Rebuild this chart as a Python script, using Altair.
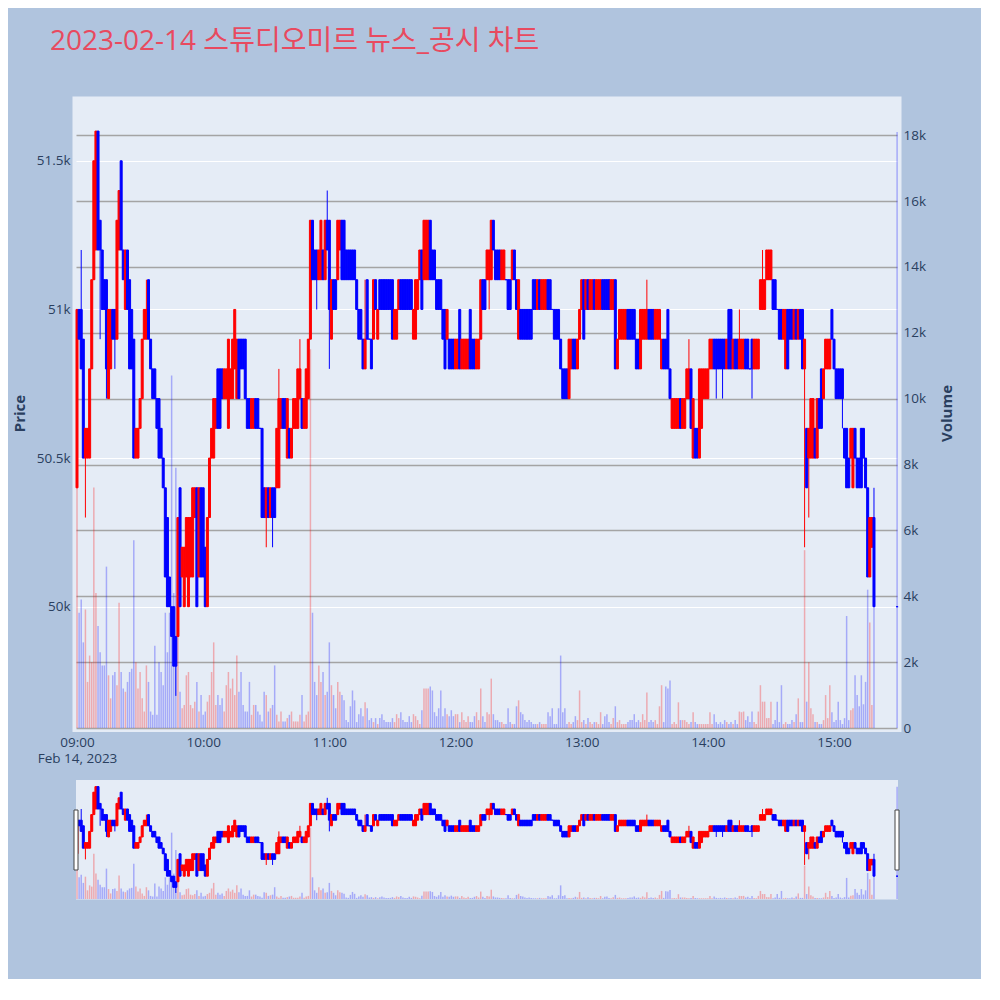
import altair as alt
import pandas as pd

title_text = "2023-02-14 스튜디오미르 뉴스_공시 차트"
date_label = "Feb 14, 2023"

# minute offsets from 09:00 (continuous session 09:00-15:19, closing auction 15:30)
minutes = list(range(380)) + [390]

opens = [
    50400, 51000, 51000, 50900, 50500, 50500, 50500, 50800, 51100, 51200,
    51600, 51300, 51200, 51100, 51100, 50700, 50800, 51000, 51000, 50900,
    51200, 51500, 51200, 51000, 51200, 51100, 51000, 50900, 50500, 50500,
    50600, 50700, 50900, 50900, 51100, 50900, 50800, 50800, 50700, 50700,
    50600, 50500, 50400, 50300, 50100, 50000, 50000, 49900, 49900, 50400,
    50100, 50000, 50100, 50000, 50100, 50100, 50300, 50400, 50100, 50400,
    50400, 50200, 50000, 50300, 50500, 50500, 50600, 50800, 50800, 50800,
    50700, 50700, 50600, 50700, 50700, 50800, 50700, 50900, 50900, 50900,
    50900, 50700, 50700, 50600, 50600, 50700, 50700, 50600, 50600, 50400,
    50300, 50400, 50300, 50400, 50400, 50400, 50400, 50600, 50700, 50700,
    50500, 50600, 50500, 50600, 50600, 50600, 50700, 50700, 50600, 50600,
    50700, 50900, 51300, 51200, 51200, 51100, 51100, 51200, 51100, 51300,
    51300, 50900, 51100, 51100, 51100, 51200, 51300, 51300, 51200, 51200,
    51200, 51200, 51200, 51100, 51000, 51000, 50900, 50800, 51100, 50900,
    50900, 50900, 51100, 50900, 51100, 51100, 51100, 51100, 51100, 51100,
    51100, 50900, 50900, 51000, 51100, 51100, 51100, 51100, 51100, 51100,
    50900, 50900, 51000, 51100, 51200, 51100, 51100, 51100, 51300, 51200,
    51200, 51100, 51100, 51100, 51000, 51000, 50900, 50900, 50900, 50900,
    50800, 50800, 51000, 50800, 50800, 50800, 50800, 51000, 50900, 50900,
    50800, 50800, 50900, 51100, 51100, 51100, 51100, 51100, 51300, 51200,
    51200, 51200, 51100, 51100, 51100, 51100, 51100, 51100, 51200, 51100,
    50900, 51000, 51000, 51000, 51000, 51000, 51000, 51100, 51100, 51000,
    51100, 51000, 51000, 51000, 51100, 51100, 51000, 51000, 51000, 51000,
    50900, 50800, 50800, 50800, 50700, 50800, 50900, 50900, 50800, 50900,
    51000, 51100, 51000, 51100, 51000, 51000, 51100, 51000, 51000, 51000,
    51100, 51100, 51100, 51100, 51000, 51000, 51100, 50800, 50900, 50900,
    50900, 50900, 51000, 51000, 51000, 51000, 50900, 50900, 50800, 50900,
    50900, 50900, 51000, 51000, 51000, 50900, 50900, 50900, 50800, 50900,
    50900, 51000, 50800, 50600, 50600, 50600, 50600, 50700, 50600, 50600,
    50700, 50700, 50800, 50500, 50600, 50600, 50500, 50600, 50700, 50700,
    50700, 50800, 50800, 50900, 50900, 50900, 50900, 50900, 50900, 50800,
    51000, 51000, 50800, 50900, 50900, 50800, 50800, 50800, 50900, 50900,
    50800, 50900, 50800, 50800, 50800, 51000, 51000, 51000, 51100, 51100,
    51100, 51100, 51100, 51000, 51000, 51000, 50900, 50800, 51000, 51000,
    51000, 50900, 51000, 50900, 51000, 51000, 50800, 50600, 50500, 50500,
    50500, 50600, 50500, 50700, 50800, 50700, 50800, 50800, 50800, 51000,
    50900, 50800, 50800, 50800, 50800, 50600, 50600, 50500, 50500, 50400,
    50600, 50500, 50500, 50600, 50600, 50500, 50400, 50100, 50200, 50300,
    50000,
]

closes = [
    51000, 50900, 50800, 50500, 50600, 50600, 50800, 51100, 51500, 51600,
    51200, 51200, 51000, 51000, 50800, 51000, 51000, 50900, 50900, 51300,
    51400, 51200, 51100, 51200, 51000, 50800, 50800, 50500, 50600, 50600,
    50700, 50900, 51000, 51000, 50900, 50800, 50700, 50700, 50600, 50500,
    50500, 50400, 50100, 50000, 50000, 49900, 49800, 49800, 50300, 50000,
    50200, 50200, 50300, 50300, 50300, 50400, 50400, 50000, 50400, 50100,
    50100, 50000, 50300, 50500, 50600, 50700, 50700, 50600, 50600, 50700,
    50800, 50800, 50900, 50800, 50900, 51000, 50900, 50700, 50800, 50800,
    50700, 50600, 50600, 50700, 50700, 50600, 50600, 50600, 50300, 50300,
    50400, 50300, 50400, 50300, 50300, 50600, 50700, 50700, 50600, 50600,
    50700, 50500, 50600, 50700, 50700, 50800, 50800, 50600, 50700, 50800,
    50900, 51300, 51100, 51100, 51100, 51200, 51300, 51100, 51300, 51200,
    51000, 51100, 51000, 51000, 51300, 51300, 51100, 51100, 51100, 51100,
    51100, 51100, 51100, 51000, 50900, 50900, 50800, 50900, 50900, 50900,
    50800, 51100, 51000, 51000, 51000, 51000, 51000, 51000, 51000, 51000,
    50900, 51000, 51000, 51100, 51000, 51000, 51000, 51000, 51000, 51000,
    51000, 51100, 51100, 51200, 51000, 51300, 51300, 51300, 51100, 51100,
    51100, 51000, 51000, 51000, 50900, 50800, 51000, 50800, 50800, 50800,
    50900, 50900, 50800, 50900, 50900, 50900, 50900, 50800, 50800, 50800,
    50900, 50900, 51100, 51000, 51000, 51200, 51200, 51300, 51200, 51100,
    51100, 51100, 51200, 51200, 51100, 51000, 51000, 51200, 51100, 51000,
    51100, 50900, 50900, 50900, 50900, 50900, 50900, 51000, 51000, 51100,
    51000, 51100, 51100, 51100, 51000, 51000, 51000, 50900, 50900, 50900,
    50800, 50700, 50700, 50700, 50900, 50900, 50800, 50800, 50900, 51000,
    51100, 50900, 51100, 51000, 51100, 51100, 51000, 51100, 51100, 51100,
    51000, 51000, 51000, 51000, 51100, 51100, 50800, 50900, 51000, 51000,
    51000, 51000, 50900, 50900, 50900, 50900, 50800, 50800, 51000, 51000,
    51000, 51000, 50900, 50900, 50900, 51000, 51000, 51000, 50900, 50800,
    50800, 50800, 50700, 50700, 50700, 50700, 50700, 50600, 50700, 50700,
    50800, 50800, 50600, 50700, 50500, 50500, 50800, 50800, 50800, 50800,
    50800, 50900, 50900, 50800, 50800, 50800, 50800, 50800, 50800, 50900,
    50800, 50800, 50900, 50800, 50800, 50900, 50900, 50900, 50800, 50800,
    50800, 50800, 50900, 50900, 50900, 51100, 51100, 51100, 51200, 51200,
    51200, 51000, 51000, 51000, 50900, 50900, 51000, 51000, 50800, 50900,
    50900, 51000, 50900, 51000, 50900, 50800, 50900, 50400, 50600, 50700,
    50700, 50500, 50700, 50600, 50600, 50800, 50900, 50900, 50900, 50900,
    50800, 50700, 50700, 50700, 50700, 50500, 50400, 50400, 50600, 50600,
    50500, 50400, 50400, 50400, 50500, 50400, 50100, 50300, 50300, 50000,
    50000,
]

# wick extremes that reach beyond the candle body (keyed by minute offset)
high_wicks = {2: 51200, 33: 51100, 96: 50800, 106: 50900, 119: 51400, 137: 51100,
              271: 51100, 291: 50900, 315: 51000, 326: 51200, 379: 50400}
low_wicks = {4: 50300, 11: 50900, 14: 50700, 18: 50800, 47: 49700, 90: 50200,
             93: 50200, 114: 51000, 120: 50800, 196: 51000, 304: 50700, 307: 50700,
             321: 50700, 346: 50200, 348: 50300, 364: 50600}

volumes = [
    7300, 3500, 3900, 2600, 3600, 1400, 2200, 2000, 7300, 4100,
    3100, 2300, 1900, 1900, 4900, 1600, 900, 1600, 1700, 1300,
    3800, 1700, 1200, 1100, 1400, 1700, 1800, 5700, 2000, 1200,
    1700, 900, 500, 1900, 1400, 500, 400, 2500, 400, 2000,
    1700, 1300, 3500, 2300, 3500, 10700, 4100, 7900, 3200, 1100,
    600, 700, 1600, 1700, 700, 600, 800, 1400, 500, 1000,
    400, 500, 800, 1000, 1700, 2600, 700, 1000, 700, 900,
    500, 1300, 1700, 1200, 1500, 1000, 2200, 1100, 1700, 700,
    500, 500, 1400, 400, 700, 700, 500, 400, 200, 1100,
    1000, 500, 600, 700, 1900, 400, 200, 500, 200, 200,
    300, 400, 500, 200, 200, 200, 400, 1000, 200, 400,
    500, 11500, 3500, 1400, 1000, 1900, 1400, 1700, 1000, 1100,
    2600, 1300, 1000, 600, 1400, 1100, 1000, 840, 240, 180,
    660, 1140, 840, 180, 420, 600, 360, 780, 600, 240,
    300, 180, 300, 120, 300, 420, 240, 180, 180, 180,
    300, 180, 420, 300, 480, 240, 180, 180, 360, 180,
    420, 360, 240, 120, 540, 1200, 1200, 1200, 1260, 1140,
    480, 360, 600, 1140, 360, 600, 420, 360, 540, 360,
    420, 420, 180, 480, 240, 180, 360, 180, 180, 360,
    480, 240, 1200, 360, 180, 480, 420, 1500, 420, 240,
    240, 180, 180, 120, 120, 600, 180, 120, 120, 660,
    840, 480, 420, 240, 180, 240, 180, 120, 120, 120,
    180, 120, 120, 120, 480, 360, 600, 120, 120, 600,
    2200, 480, 600, 120, 180, 120, 180, 360, 240, 1140,
    180, 240, 120, 300, 180, 120, 180, 180, 120, 480,
    120, 360, 420, 180, 120, 300, 660, 180, 240, 120,
    120, 120, 180, 240, 240, 420, 180, 240, 180, 420,
    240, 1080, 180, 240, 180, 240, 120, 660, 1300, 180,
    1260, 1200, 1440, 120, 180, 120, 780, 240, 240, 240,
    180, 120, 180, 480, 180, 120, 120, 120, 120, 120,
    120, 480, 120, 420, 180, 120, 180, 120, 240, 180,
    120, 180, 120, 240, 120, 500, 480, 500, 240, 360,
    180, 500, 180, 120, 500, 1300, 800, 800, 300, 300,
    800, 120, 240, 800, 180, 1300, 120, 180, 120, 120,
    240, 180, 420, 900, 180, 180, 5400, 800, 2000, 600,
    420, 180, 180, 120, 120, 240, 1000, 300, 1300, 480,
    180, 240, 800, 240, 120, 300, 3400, 240, 540, 600,
    1600, 1000, 660, 1600, 720, 1400, 4200, 3200, 700, 3700,
    18100,
]

# range slider covers the whole session
slider_range = [-0.48, 389.95]

rows = []
for i, m in enumerate(minutes):
    o, c = opens[i], closes[i]
    rows.append({
        "m": m,
        "open": o,
        "close": c,
        "high": max(o, c, high_wicks.get(m, o)),
        "low": min(o, c, low_wicks.get(m, o)),
        "volume": volumes[i],
        "dir": "up" if c > o else "down",
    })
df = pd.DataFrame(rows)
handles_df = pd.DataFrame({"pos": slider_range})
one_df = pd.DataFrame({"k": [0]})

FONT = "Open Sans"
TXT = "#2a3f5f"
LBL = 13.5

x_scale = alt.Scale(domain=[-0.48, 389.95], range=[4, 825], nice=False, zero=False, padding=0)
x_axis = alt.Axis(
    values=[0, 60, 120, 180, 240, 300, 360],
    labelExpr="datum.value == 0 ? ['09:00', '" + date_label + "'] : format(9 + datum.value / 60, '02d') + ':00'",
    grid=False, domain=False, ticks=False, tickSize=0, labelPadding=3, offset=-167,
    labelFont=FONT, labelFontSize=LBL, labelColor=TXT, labelFlush=False,
    labelLineHeight=16, labelBaseline="top", labelOverlap=False, title=None, zindex=1,
)
x_enc = alt.X("m:Q", scale=x_scale, axis=x_axis)

color_scale = alt.Scale(domain=["up", "down"], range=["#FF0000", "#0000FF"])
color_enc = alt.Color("dir:N", scale=color_scale, legend=None)
stroke_enc = alt.Stroke("dir:N", scale=color_scale, legend=None)

price_scale = alt.Scale(domain=[49592, 51718], range=[632, 0], nice=False, zero=False)
vol_scale = alt.Scale(domain=[0, 19190], range=[632, 0], nice=False)
sl_price_scale = alt.Scale(domain=[49592, 51718], range=[803, 684], nice=False, zero=False)
sl_vol_scale = alt.Scale(domain=[0, 19190], range=[803, 684], nice=False)

price_axis = alt.Axis(
    orient="left", values=[50000, 50500, 51000, 51500],
    labelExpr="(datum.value / 1000) + 'k'",
    grid=True, gridColor="#ffffff", gridWidth=1, domain=False, ticks=False, tickSize=0,
    labelPadding=2, labelFont=FONT, labelFontSize=LBL, labelColor=TXT,
    title="Price", titleFont=FONT, titleFontSize=15, titleFontWeight="bold", titleColor=TXT,
    titleAngle=270, titleX=-53, titleY=317, titleAlign="center", titleBaseline="middle",
)
vol_axis = alt.Axis(
    orient="right", values=[0, 2000, 4000, 6000, 8000, 10000, 12000, 14000, 16000, 18000],
    labelExpr="datum.value == 0 ? '0' : (datum.value / 1000) + 'k'",
    grid=True, gridColor="#a4a4a4", gridWidth=1.5, domain=False, ticks=False,
    tickSize=0, labelPadding=2, labelFont=FONT, labelFontSize=LBL, labelColor=TXT,
    title="Volume", titleFont=FONT, titleFontSize=15, titleFontWeight="bold", titleColor=TXT,
    titleAngle=270, titleX=45, titleY=317, titleAlign="center", titleBaseline="middle",
)

base = alt.Chart(df)

main_vol = base.mark_bar(width=1.5, opacity=0.28).encode(
    x=x_enc, y=alt.Y("volume:Q", scale=vol_scale, axis=vol_axis), color=color_enc
)
wick = base.mark_rule(strokeWidth=1).encode(
    x=x_enc, y=alt.Y("low:Q", scale=price_scale, axis=price_axis), y2="high:Q", color=color_enc
)
body = base.mark_bar(width=2, strokeWidth=1).encode(
    x=x_enc, y=alt.Y("open:Q", scale=price_scale, axis=price_axis), y2="close:Q",
    color=color_enc, stroke=stroke_enc
)
main_price = alt.layer(wick, body)

sl_vol = base.mark_bar(width=1.5, opacity=0.28).encode(
    x=x_enc, y=alt.Y("volume:Q", scale=sl_vol_scale, axis=None), color=color_enc
)
sl_wick = base.mark_rule(strokeWidth=1).encode(
    x=x_enc, y=alt.Y("low:Q", scale=sl_price_scale, axis=None), y2="high:Q", color=color_enc
)
sl_body = base.mark_bar(width=2, strokeWidth=1).encode(
    x=x_enc, y=alt.Y("open:Q", scale=sl_price_scale, axis=None), y2="close:Q",
    color=color_enc, stroke=stroke_enc
)
sl_price = alt.layer(sl_wick, sl_body)

PAPER = "#B0C4DE"
gap = alt.Chart(one_df).mark_rect(color=PAPER).encode(
    x=alt.value(0), x2=alt.value(832), y=alt.value(636), y2=alt.value(684)
)
strip_l = alt.Chart(one_df).mark_rect(color=PAPER).encode(
    x=alt.value(0), x2=alt.value(4), y=alt.value(684), y2=alt.value(804)
)
strip_r = alt.Chart(one_df).mark_rect(color=PAPER).encode(
    x=alt.value(826), x2=alt.value(832), y=alt.value(684), y2=alt.value(804)
)
handles = alt.Chart(handles_df).mark_bar(
    width=4, fill="#ffffff", stroke="#444444", strokeWidth=1
).encode(
    x=alt.X("pos:Q", scale=x_scale, axis=x_axis), y=alt.value(714), y2=alt.value(774)
)

chart = alt.layer(
    main_vol, main_price, sl_vol, sl_price, gap, strip_l, strip_r, handles
).resolve_scale(
    y="independent"
).properties(
    width=829,
    height=803,
    autosize=alt.AutoSizeParams(type="none"),
    padding={"left": 64, "top": 88, "right": 80, "bottom": 80},
    title=alt.TitleParams(
        text=title_text, anchor="start", frame="group", dx=-22, offset=40,
        fontSize=28, font="Open Sans, Noto Sans CJK KR", fontWeight="normal",
        color="#E84A5F",
    ),
).configure(
    background=PAPER
).configure_view(
    fill="#E5ECF6", stroke="transparent"
)

chart.save("out.html", embed_options={"renderer": "svg", "actions": False})
